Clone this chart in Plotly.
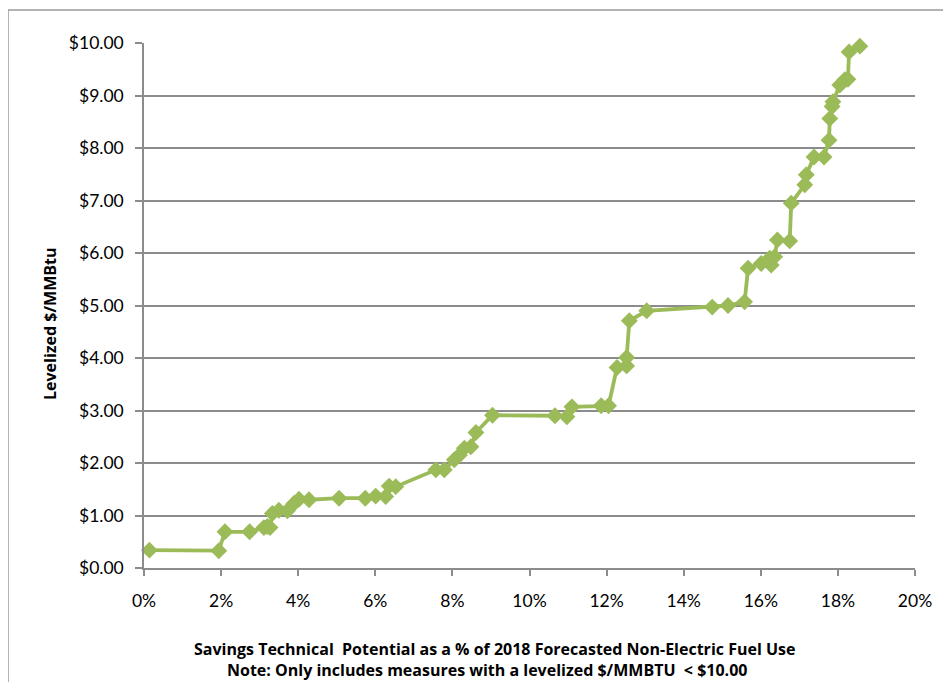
import plotly.graph_objects as go

savings_pct = [0.14, 1.94, 2.10, 2.74, 3.11, 3.20, 3.27, 3.33, 3.50, 3.72, 3.89, 4.02, 4.28,
               5.06, 5.74, 6.01, 6.27, 6.36, 6.53, 7.57, 7.79, 8.05, 8.18, 8.31, 8.48, 8.61,
               9.04, 10.66, 10.97, 11.10, 11.86, 12.05, 12.27, 12.52, 12.52, 12.59, 13.04,
               14.74, 15.15, 15.58, 15.67, 16.01, 16.27, 16.23, 16.36, 16.43, 16.75, 16.79,
               17.14, 17.18, 17.38, 17.64, 17.77, 17.79, 17.85, 17.87, 18.05, 18.18, 18.26,
               18.29, 18.57]
cost = [0.34, 0.33, 0.69, 0.69, 0.77, 0.79, 0.77, 1.04, 1.10, 1.09, 1.23, 1.31, 1.30,
        1.33, 1.33, 1.37, 1.36, 1.56, 1.55, 1.87, 1.87, 2.06, 2.15, 2.28, 2.31, 2.58,
        2.91, 2.90, 2.88, 3.07, 3.09, 3.09, 3.82, 3.85, 4.01, 4.71, 4.90,
        4.97, 5.00, 5.07, 5.71, 5.80, 5.77, 5.90, 5.93, 6.25, 6.23, 6.95,
        7.30, 7.49, 7.83, 7.83, 8.15, 8.56, 8.79, 8.88, 9.20, 9.30, 9.31,
        9.83, 9.94]

x_ticks = [0, 2, 4, 6, 8, 10, 12, 14, 16, 18, 20]
x_tick_labels = [f"{v}%" for v in x_ticks]
y_ticks = list(range(0, 11))
y_tick_labels = [f"${v:.2f}" for v in y_ticks]

FONT = "Lato"
TFONT = "Open Sans"
GRAY = "#8c8c8c"

# page has an 8px body margin; work in window pixels
OFF = 8
PL, PR, PT, PB = 144, 915, 43, 568          # plot area in window px
W, H = 951 - 2 * OFF, 690 - 2 * OFF
L, T = PL - OFF, PT - OFF
R = OFF + W - PR
B = OFF + H - PB
pw, ph = PR - PL, PB - PT


def px(x):
    return (x - PL) / pw


def py(y):
    return (PB - y) / ph


fig = go.Figure()
fig.add_trace(go.Scatter(
    x=savings_pct, y=cost, mode="lines+markers",
    line=dict(color="#9BBB59", width=3.8),
    marker=dict(symbol="diamond", size=13, color="#9BBB59"),
    showlegend=False, cliponaxis=False,
))

fig.update_layout(
    width=W, height=H,
    margin=dict(l=L, r=R, t=T, b=B),
    paper_bgcolor="white", plot_bgcolor="white",
    font=dict(family=FONT, color="#000000", size=17.5),
    xaxis=dict(
        range=[0, 20], tickmode="array", tickvals=x_ticks, ticktext=x_tick_labels,
        showgrid=False, zeroline=False, showline=True, linecolor=GRAY, linewidth=1.5,
        ticks="outside", ticklen=6, tickcolor=GRAY, tickwidth=1.5,
        tickfont=dict(family=FONT, size=17.5, color="#000"),
        ticklabelstandoff=10,
        fixedrange=True,
    ),
    yaxis=dict(
        range=[0, 10], tickmode="array", tickvals=y_ticks, ticktext=y_tick_labels,
        showgrid=True, gridcolor=GRAY, gridwidth=1.5, zeroline=False,
        showline=True, linecolor=GRAY, linewidth=1.5,
        ticks="outside", ticklen=7, tickcolor=GRAY, tickwidth=1.5,
        tickfont=dict(family=FONT, size=17.5, color="#000"),
        ticklabelstandoff=8,
        fixedrange=True,
    ),
    annotations=[
        dict(text="<b>Savings Technical  Potential as a % of 2018 Forecasted Non-Electric Fuel Use</b>",
             xref="paper", yref="paper", x=px(494), y=py(649),
             xanchor="center", yanchor="middle", showarrow=False,
             font=dict(family=TFONT, size=16, color="#000")),
        dict(text="<b>Note: Only includes measures with a levelized $/MMBTU  < $10.00</b>",
             xref="paper", yref="paper", x=px(487), y=py(670),
             xanchor="center", yanchor="middle", showarrow=False,
             font=dict(family=TFONT, size=16, color="#000")),
        dict(text="<b>Levelized $/MMBtu</b>",
             xref="paper", yref="paper", x=px(50), y=py(324),
             xanchor="center", yanchor="middle", showarrow=False, textangle=-90,
             font=dict(family=TFONT, size=16, color="#000")),
    ],
    shapes=[
        dict(type="line", xref="paper", yref="paper",
             x0=px(8), x1=px(8), y0=py(10), y1=py(700),
             line=dict(color="#9a9a9a", width=1.5)),
        dict(type="line", xref="paper", yref="paper",
             x0=px(8), x1=px(960), y0=py(10), y1=py(10),
             line=dict(color="#9a9a9a", width=1.5)),
    ],
)

fig.write_html("out.html", config={"displayModeBar": False})
